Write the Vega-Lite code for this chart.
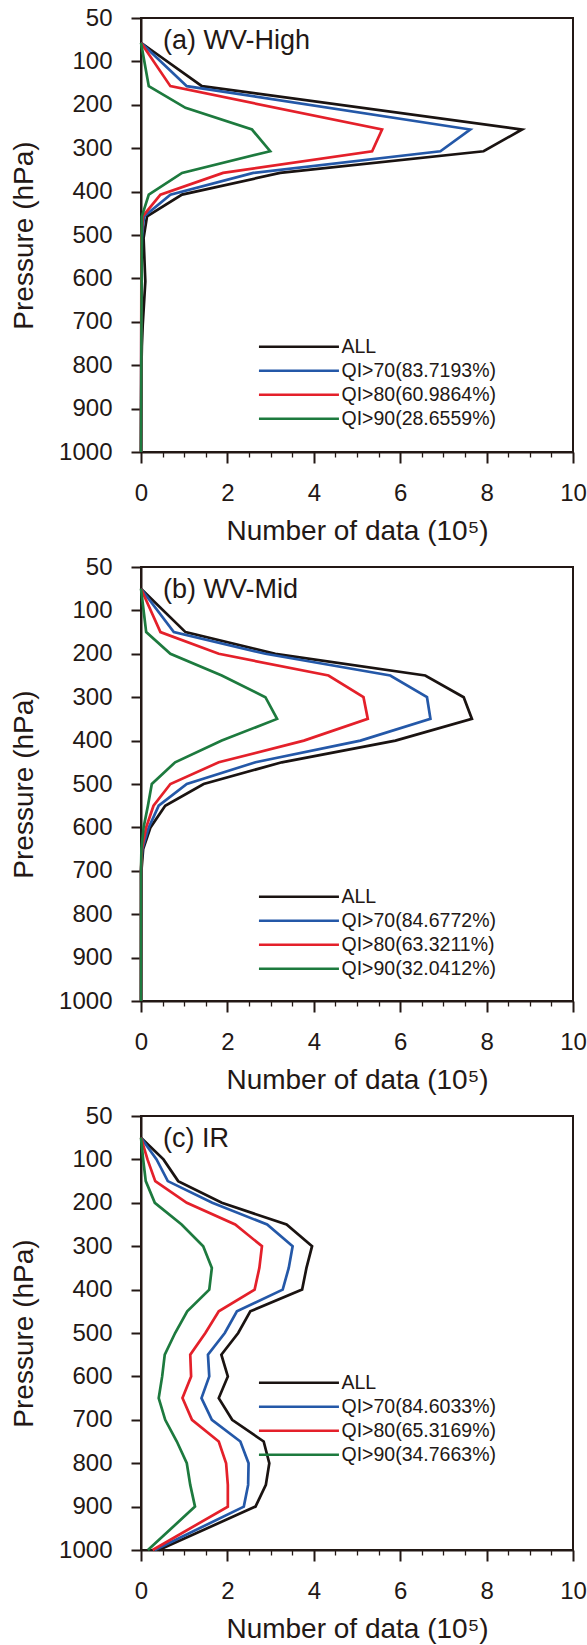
{
  "$schema": "https://vega.github.io/schema/vega-lite/v6.json",
  "autosize": {"type": "pad"},
  "padding": {"left": 9, "top": 5, "right": 3, "bottom": 5},
  "spacing": 8,
  "background": "white",
  "config": {
    "font": "Liberation Sans",
    "view": {"stroke": "#231815", "strokeWidth": 2},
    "axis": {
      "grid": false,
      "domainColor": "#231815",
      "domainWidth": 2,
      "tickColor": "#231815",
      "labelColor": "#231815",
      "titleColor": "#231815",
      "labelFontSize": 24,
      "titleFontSize": 28,
      "titleFontWeight": "normal",
      "labelFlush": false,
      "labelOverlap": false,
      "format": "d"
    },
    "legend": {
      "orient": "none",
      "title": null,
      "padding": 0,
      "symbolType": "M-8.6,0H1.4",
      "symbolSize": 256,
      "symbolStrokeWidth": 2.7,
      "labelFontSize": 19.5,
      "labelColor": "#231815",
      "labelOffset": 4,
      "rowPadding": 3
    },
    "title": {
      "anchor": "start",
      "frame": "group",
      "orient": "top",
      "baseline": "top",
      "offset": -49,
      "dx": 22,
      "fontSize": 27,
      "fontWeight": "normal",
      "color": "#231815"
    },
    "line": {"strokeWidth": 2.7}
  },
  "resolve": {"scale": {"color": "independent"}, "legend": {"color": "independent"}},
  "vconcat": [
    {
      "width": 432,
      "height": 434,
      "title": "(a) WV-High",
      "data": {"values": [
        {"s": "ALL", "p": 57, "n": 0}, {"s": "ALL", "p": 157, "n": 1.41}, {"s": "ALL", "p": 257, "n": 8.82}, {"s": "ALL", "p": 307, "n": 7.93}, {"s": "ALL", "p": 357, "n": 3.22}, {"s": "ALL", "p": 407, "n": 0.95}, {"s": "ALL", "p": 457, "n": 0.14}, {"s": "ALL", "p": 507, "n": 0.06}, {"s": "ALL", "p": 557, "n": 0.08}, {"s": "ALL", "p": 607, "n": 0.1}, {"s": "ALL", "p": 657, "n": 0.07}, {"s": "ALL", "p": 707, "n": 0.04}, {"s": "ALL", "p": 757, "n": 0.02}, {"s": "ALL", "p": 807, "n": 0.01}, {"s": "ALL", "p": 1000, "n": 0},
        {"s": "QI>70(83.7193%)", "p": 57, "n": 0}, {"s": "QI>70(83.7193%)", "p": 157, "n": 1.06}, {"s": "QI>70(83.7193%)", "p": 257, "n": 7.62}, {"s": "QI>70(83.7193%)", "p": 307, "n": 6.93}, {"s": "QI>70(83.7193%)", "p": 357, "n": 2.6}, {"s": "QI>70(83.7193%)", "p": 407, "n": 0.68}, {"s": "QI>70(83.7193%)", "p": 457, "n": 0.07}, {"s": "QI>70(83.7193%)", "p": 507, "n": 0.02}, {"s": "QI>70(83.7193%)", "p": 607, "n": 0.01}, {"s": "QI>70(83.7193%)", "p": 1000, "n": 0},
        {"s": "QI>80(60.9864%)", "p": 57, "n": 0}, {"s": "QI>80(60.9864%)", "p": 157, "n": 0.68}, {"s": "QI>80(60.9864%)", "p": 257, "n": 5.58}, {"s": "QI>80(60.9864%)", "p": 307, "n": 5.35}, {"s": "QI>80(60.9864%)", "p": 357, "n": 1.9}, {"s": "QI>80(60.9864%)", "p": 407, "n": 0.45}, {"s": "QI>80(60.9864%)", "p": 457, "n": 0.04}, {"s": "QI>80(60.9864%)", "p": 507, "n": 0.01}, {"s": "QI>80(60.9864%)", "p": 1000, "n": 0},
        {"s": "QI>90(28.6559%)", "p": 57, "n": 0}, {"s": "QI>90(28.6559%)", "p": 157, "n": 0.18}, {"s": "QI>90(28.6559%)", "p": 207, "n": 1.03}, {"s": "QI>90(28.6559%)", "p": 257, "n": 2.57}, {"s": "QI>90(28.6559%)", "p": 307, "n": 2.99}, {"s": "QI>90(28.6559%)", "p": 357, "n": 0.95}, {"s": "QI>90(28.6559%)", "p": 407, "n": 0.18}, {"s": "QI>90(28.6559%)", "p": 457, "n": 0.02}, {"s": "QI>90(28.6559%)", "p": 1000, "n": 0}
      ]},
      "mark": {"type": "line"},
      "encoding": {
        "x": {"field": "n", "type": "quantitative", "title": "Number of data (10⁵)",
              "scale": {"domain": [0, 10], "nice": false, "zero": false},
              "axis": {"values": [0,0.5,1,1.5,2,2.5,3,3.5,4,4.5,5,5.5,6,6.5,7,7.5,8,8.5,9,9.5,10],
                       "labelExpr": "datum.value % 2 === 0 ? datum.label : ''",
                       "tickSize": {"condition": {"test": "datum.value % 2 === 0", "value": 11}, "value": 5},
                       "tickWidth": {"condition": {"test": "datum.value % 2 === 0", "value": 2}, "value": 1.3},
                       "labelPadding": 18, "titlePadding": 12}},
        "y": {"field": "p", "type": "quantitative", "title": "Pressure (hPa)",
              "scale": {"domain": [0, 1000], "reverse": true, "nice": false, "zero": false},
              "axis": {"values": [0,100,200,300,400,500,600,700,800,900,1000],
                       "labelExpr": "datum.value === 0 ? '50' : datum.label",
                       "tickSize": 10, "tickWidth": 2, "labelPadding": 19, "titlePadding": 20}},
        "color": {"field": "s", "type": "nominal",
                  "scale": {"domain": ["ALL", "QI>70(83.7193%)", "QI>80(60.9864%)", "QI>90(28.6559%)"],
                            "range": ["#1a1311", "#2458a8", "#e4202a", "#1d7a3e"]},
                  "legend": {"legendX": 177, "legendY": 319}},
        "order": {"field": "p", "type": "quantitative"}
      }
    },
    {
      "width": 432,
      "height": 434,
      "title": "(b) WV-Mid",
      "data": {"values": [
        {"s": "ALL", "p": 50, "n": 0}, {"s": "ALL", "p": 150, "n": 1.03}, {"s": "ALL", "p": 200, "n": 3.11}, {"s": "ALL", "p": 250, "n": 6.58}, {"s": "ALL", "p": 300, "n": 7.47}, {"s": "ALL", "p": 350, "n": 7.66}, {"s": "ALL", "p": 400, "n": 5.89}, {"s": "ALL", "p": 450, "n": 3.26}, {"s": "ALL", "p": 500, "n": 1.45}, {"s": "ALL", "p": 550, "n": 0.56}, {"s": "ALL", "p": 600, "n": 0.22}, {"s": "ALL", "p": 650, "n": 0.05}, {"s": "ALL", "p": 700, "n": 0.01}, {"s": "ALL", "p": 1000, "n": 0},
        {"s": "QI>70(84.6772%)", "p": 50, "n": 0}, {"s": "QI>70(84.6772%)", "p": 150, "n": 0.76}, {"s": "QI>70(84.6772%)", "p": 200, "n": 2.88}, {"s": "QI>70(84.6772%)", "p": 250, "n": 5.77}, {"s": "QI>70(84.6772%)", "p": 300, "n": 6.62}, {"s": "QI>70(84.6772%)", "p": 350, "n": 6.7}, {"s": "QI>70(84.6772%)", "p": 400, "n": 5.08}, {"s": "QI>70(84.6772%)", "p": 450, "n": 2.65}, {"s": "QI>70(84.6772%)", "p": 500, "n": 1.06}, {"s": "QI>70(84.6772%)", "p": 550, "n": 0.41}, {"s": "QI>70(84.6772%)", "p": 600, "n": 0.18}, {"s": "QI>70(84.6772%)", "p": 650, "n": 0.03}, {"s": "QI>70(84.6772%)", "p": 700, "n": 0}, {"s": "QI>70(84.6772%)", "p": 1000, "n": 0},
        {"s": "QI>80(63.3211%)", "p": 50, "n": 0}, {"s": "QI>80(63.3211%)", "p": 150, "n": 0.45}, {"s": "QI>80(63.3211%)", "p": 200, "n": 1.8}, {"s": "QI>80(63.3211%)", "p": 250, "n": 4.34}, {"s": "QI>80(63.3211%)", "p": 300, "n": 5.15}, {"s": "QI>80(63.3211%)", "p": 350, "n": 5.25}, {"s": "QI>80(63.3211%)", "p": 400, "n": 3.77}, {"s": "QI>80(63.3211%)", "p": 450, "n": 1.8}, {"s": "QI>80(63.3211%)", "p": 500, "n": 0.68}, {"s": "QI>80(63.3211%)", "p": 550, "n": 0.29}, {"s": "QI>80(63.3211%)", "p": 600, "n": 0.12}, {"s": "QI>80(63.3211%)", "p": 650, "n": 0.02}, {"s": "QI>80(63.3211%)", "p": 700, "n": 0}, {"s": "QI>80(63.3211%)", "p": 1000, "n": 0},
        {"s": "QI>90(32.0412%)", "p": 50, "n": 0}, {"s": "QI>90(32.0412%)", "p": 150, "n": 0.12}, {"s": "QI>90(32.0412%)", "p": 200, "n": 0.68}, {"s": "QI>90(32.0412%)", "p": 250, "n": 1.87}, {"s": "QI>90(32.0412%)", "p": 300, "n": 2.88}, {"s": "QI>90(32.0412%)", "p": 350, "n": 3.15}, {"s": "QI>90(32.0412%)", "p": 400, "n": 1.87}, {"s": "QI>90(32.0412%)", "p": 450, "n": 0.79}, {"s": "QI>90(32.0412%)", "p": 500, "n": 0.25}, {"s": "QI>90(32.0412%)", "p": 550, "n": 0.16}, {"s": "QI>90(32.0412%)", "p": 600, "n": 0.06}, {"s": "QI>90(32.0412%)", "p": 650, "n": 0.01}, {"s": "QI>90(32.0412%)", "p": 700, "n": 0}, {"s": "QI>90(32.0412%)", "p": 1000, "n": 0}
      ]},
      "mark": {"type": "line"},
      "encoding": {
        "x": {"field": "n", "type": "quantitative", "title": "Number of data (10⁵)",
              "scale": {"domain": [0, 10], "nice": false, "zero": false},
              "axis": {"values": [0,0.5,1,1.5,2,2.5,3,3.5,4,4.5,5,5.5,6,6.5,7,7.5,8,8.5,9,9.5,10],
                       "labelExpr": "datum.value % 2 === 0 ? datum.label : ''",
                       "tickSize": {"condition": {"test": "datum.value % 2 === 0", "value": 11}, "value": 5},
                       "tickWidth": {"condition": {"test": "datum.value % 2 === 0", "value": 2}, "value": 1.3},
                       "labelPadding": 18, "titlePadding": 12}},
        "y": {"field": "p", "type": "quantitative", "title": "Pressure (hPa)",
              "scale": {"domain": [0, 1000], "reverse": true, "nice": false, "zero": false},
              "axis": {"values": [0,100,200,300,400,500,600,700,800,900,1000],
                       "labelExpr": "datum.value === 0 ? '50' : datum.label",
                       "tickSize": 10, "tickWidth": 2, "labelPadding": 19, "titlePadding": 20}},
        "color": {"field": "s", "type": "nominal",
                  "scale": {"domain": ["ALL", "QI>70(84.6772%)", "QI>80(63.3211%)", "QI>90(32.0412%)"],
                            "range": ["#1a1311", "#2458a8", "#e4202a", "#1d7a3e"]},
                  "legend": {"legendX": 177, "legendY": 320}},
        "order": {"field": "p", "type": "quantitative"}
      }
    },
    {
      "width": 432,
      "height": 434,
      "title": "(c) IR",
      "data": {"values": [
        {"s": "ALL", "p": 50, "n": 0}, {"s": "ALL", "p": 100, "n": 0.52}, {"s": "ALL", "p": 150, "n": 0.86}, {"s": "ALL", "p": 200, "n": 1.87}, {"s": "ALL", "p": 250, "n": 3.37}, {"s": "ALL", "p": 300, "n": 3.96}, {"s": "ALL", "p": 350, "n": 3.83}, {"s": "ALL", "p": 400, "n": 3.73}, {"s": "ALL", "p": 450, "n": 2.53}, {"s": "ALL", "p": 500, "n": 2.25}, {"s": "ALL", "p": 550, "n": 1.86}, {"s": "ALL", "p": 600, "n": 2.01}, {"s": "ALL", "p": 650, "n": 1.8}, {"s": "ALL", "p": 700, "n": 2.11}, {"s": "ALL", "p": 750, "n": 2.84}, {"s": "ALL", "p": 800, "n": 2.97}, {"s": "ALL", "p": 850, "n": 2.89}, {"s": "ALL", "p": 900, "n": 2.65}, {"s": "ALL", "p": 1000, "n": 0.41},
        {"s": "QI>70(84.6033%)", "p": 50, "n": 0}, {"s": "QI>70(84.6033%)", "p": 100, "n": 0.36}, {"s": "QI>70(84.6033%)", "p": 150, "n": 0.62}, {"s": "QI>70(84.6033%)", "p": 200, "n": 1.65}, {"s": "QI>70(84.6033%)", "p": 250, "n": 2.92}, {"s": "QI>70(84.6033%)", "p": 300, "n": 3.51}, {"s": "QI>70(84.6033%)", "p": 350, "n": 3.42}, {"s": "QI>70(84.6033%)", "p": 400, "n": 3.28}, {"s": "QI>70(84.6033%)", "p": 450, "n": 2.22}, {"s": "QI>70(84.6033%)", "p": 500, "n": 1.94}, {"s": "QI>70(84.6033%)", "p": 550, "n": 1.55}, {"s": "QI>70(84.6033%)", "p": 600, "n": 1.58}, {"s": "QI>70(84.6033%)", "p": 650, "n": 1.4}, {"s": "QI>70(84.6033%)", "p": 700, "n": 1.64}, {"s": "QI>70(84.6033%)", "p": 750, "n": 2.3}, {"s": "QI>70(84.6033%)", "p": 800, "n": 2.49}, {"s": "QI>70(84.6033%)", "p": 850, "n": 2.48}, {"s": "QI>70(84.6033%)", "p": 900, "n": 2.38}, {"s": "QI>70(84.6033%)", "p": 1000, "n": 0.32},
        {"s": "QI>80(65.3169%)", "p": 50, "n": 0}, {"s": "QI>80(65.3169%)", "p": 100, "n": 0.15}, {"s": "QI>80(65.3169%)", "p": 150, "n": 0.33}, {"s": "QI>80(65.3169%)", "p": 200, "n": 1.06}, {"s": "QI>80(65.3169%)", "p": 250, "n": 2.18}, {"s": "QI>80(65.3169%)", "p": 300, "n": 2.8}, {"s": "QI>80(65.3169%)", "p": 350, "n": 2.74}, {"s": "QI>80(65.3169%)", "p": 400, "n": 2.63}, {"s": "QI>80(65.3169%)", "p": 450, "n": 1.8}, {"s": "QI>80(65.3169%)", "p": 500, "n": 1.49}, {"s": "QI>80(65.3169%)", "p": 550, "n": 1.14}, {"s": "QI>80(65.3169%)", "p": 600, "n": 1.16}, {"s": "QI>80(65.3169%)", "p": 650, "n": 0.96}, {"s": "QI>80(65.3169%)", "p": 700, "n": 1.18}, {"s": "QI>80(65.3169%)", "p": 750, "n": 1.8}, {"s": "QI>80(65.3169%)", "p": 800, "n": 1.97}, {"s": "QI>80(65.3169%)", "p": 850, "n": 2.01}, {"s": "QI>80(65.3169%)", "p": 900, "n": 2.01}, {"s": "QI>80(65.3169%)", "p": 1000, "n": 0.27},
        {"s": "QI>90(34.7663%)", "p": 50, "n": 0}, {"s": "QI>90(34.7663%)", "p": 100, "n": 0.05}, {"s": "QI>90(34.7663%)", "p": 150, "n": 0.11}, {"s": "QI>90(34.7663%)", "p": 200, "n": 0.32}, {"s": "QI>90(34.7663%)", "p": 250, "n": 0.94}, {"s": "QI>90(34.7663%)", "p": 300, "n": 1.44}, {"s": "QI>90(34.7663%)", "p": 350, "n": 1.64}, {"s": "QI>90(34.7663%)", "p": 400, "n": 1.58}, {"s": "QI>90(34.7663%)", "p": 450, "n": 1.07}, {"s": "QI>90(34.7663%)", "p": 500, "n": 0.79}, {"s": "QI>90(34.7663%)", "p": 550, "n": 0.55}, {"s": "QI>90(34.7663%)", "p": 600, "n": 0.49}, {"s": "QI>90(34.7663%)", "p": 650, "n": 0.41}, {"s": "QI>90(34.7663%)", "p": 700, "n": 0.56}, {"s": "QI>90(34.7663%)", "p": 750, "n": 0.83}, {"s": "QI>90(34.7663%)", "p": 800, "n": 1.06}, {"s": "QI>90(34.7663%)", "p": 850, "n": 1.14}, {"s": "QI>90(34.7663%)", "p": 900, "n": 1.25}, {"s": "QI>90(34.7663%)", "p": 1000, "n": 0.16}
      ]},
      "mark": {"type": "line"},
      "encoding": {
        "x": {"field": "n", "type": "quantitative", "title": "Number of data (10⁵)",
              "scale": {"domain": [0, 10], "nice": false, "zero": false},
              "axis": {"values": [0,0.5,1,1.5,2,2.5,3,3.5,4,4.5,5,5.5,6,6.5,7,7.5,8,8.5,9,9.5,10],
                       "labelExpr": "datum.value % 2 === 0 ? datum.label : ''",
                       "tickSize": {"condition": {"test": "datum.value % 2 === 0", "value": 11}, "value": 5},
                       "tickWidth": {"condition": {"test": "datum.value % 2 === 0", "value": 2}, "value": 1.3},
                       "labelPadding": 18, "titlePadding": 12}},
        "y": {"field": "p", "type": "quantitative", "title": "Pressure (hPa)",
              "scale": {"domain": [0, 1000], "reverse": true, "nice": false, "zero": false},
              "axis": {"values": [0,100,200,300,400,500,600,700,800,900,1000],
                       "labelExpr": "datum.value === 0 ? '50' : datum.label",
                       "tickSize": 10, "tickWidth": 2, "labelPadding": 19, "titlePadding": 20}},
        "color": {"field": "s", "type": "nominal",
                  "scale": {"domain": ["ALL", "QI>70(84.6033%)", "QI>80(65.3169%)", "QI>90(34.7663%)"],
                            "range": ["#1a1311", "#2458a8", "#e4202a", "#1d7a3e"]},
                  "legend": {"legendX": 177, "legendY": 257}},
        "order": {"field": "p", "type": "quantitative"}
      }
    }
  ]
}
